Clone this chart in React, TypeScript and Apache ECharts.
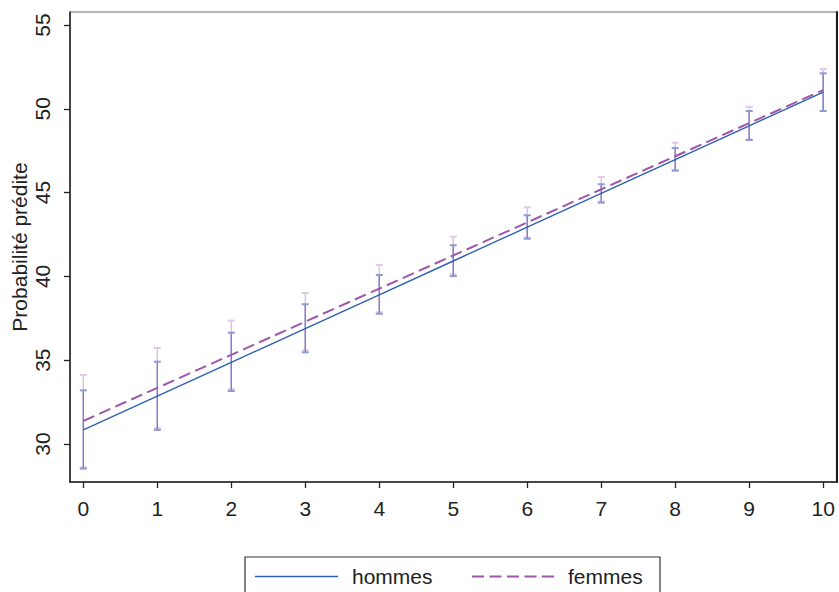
import React, { useEffect, useRef } from "react";
import * as echarts from "echarts";

const xValues = [0, 1, 2, 3, 4, 5, 6, 7, 8, 9, 10];
const hommes = [30.84, 32.86, 34.87, 36.89, 38.9, 40.92, 42.94, 44.95, 46.97, 48.99, 51.0];
const femmes = [31.37, 33.35, 35.32, 37.3, 39.27, 41.25, 43.22, 45.2, 47.17, 49.15, 51.12];
const hommesLow = [28.53, 30.84, 33.16, 35.47, 37.77, 40.02, 42.25, 44.4, 46.31, 48.14, 49.87];
const hommesHigh = [33.2, 34.91, 36.64, 38.34, 40.08, 41.86, 43.65, 45.5, 47.66, 49.87, 52.12];
const femmesLow = [28.6, 30.95, 33.28, 35.59, 37.86, 40.13, 42.32, 44.47, 46.36, 48.18, 49.87];
const femmesHigh = [34.12, 35.73, 37.36, 39.01, 40.68, 42.37, 44.12, 45.93, 47.98, 50.12, 52.37];
const yTicks = [30, 35, 40, 45, 50, 55];
const xTicks = [0, 1, 2, 3, 4, 5, 6, 7, 8, 9, 10];
const legendNames = ["hommes", "femmes"];

const FONT = "'Liberation Sans', Arial, sans-serif";
const COLOR_H = "#2d5fb2";
const COLOR_F = "#a055ac";
const DASH = [12, 5.5];

function ciSeries(name: string, low: number[], high: number[], color: string, capColor: string) {
  return {
    type: "custom",
    name,
    silent: true,
    data: xValues.map((x, i) => [x, low[i], high[i]]),
    renderItem: (params: any, api: any) => {
      const x = api.value(0);
      const p1 = api.coord([x, api.value(1)]);
      const p2 = api.coord([x, api.value(2)]);
      const w = 3.5;
      return {
        type: "group",
        children: [
          { type: "line", shape: { x1: p1[0], y1: p1[1], x2: p2[0], y2: p2[1] }, style: { stroke: color, lineWidth: 1.4 } },
          { type: "line", shape: { x1: p1[0] - w, y1: p1[1], x2: p1[0] + w, y2: p1[1] }, style: { stroke: capColor, lineWidth: 2 } },
          { type: "line", shape: { x1: p2[0] - w, y1: p2[1], x2: p2[0] + w, y2: p2[1] }, style: { stroke: capColor, lineWidth: 2 } },
        ],
      };
    },
    z: 2,
  };
}

export default function App() {
  const ref = useRef<HTMLDivElement>(null);
  useEffect(() => {
    if (!ref.current) return;
    const chart = echarts.init(ref.current, undefined, { renderer: "svg" });
    const ly = 576.5;
    chart.setOption({
      animation: false,
      backgroundColor: "#ffffff",
      textStyle: { fontFamily: FONT },
      grid: {
        left: 70,
        top: 12,
        right: 2.5,
        bottom: 110,
        containLabel: false,
        outerBoundsMode: "none",
        show: true,
        borderColor: "#707070",
        borderWidth: 1.2,
        backgroundColor: "#ffffff",
      },
      graphic: [
        {
          type: "rect",
          shape: { x: 245, y: 557, width: 415, height: 50 },
          style: { fill: "#ffffff", stroke: "#333", lineWidth: 1.2 },
        },
        {
          type: "line",
          shape: { x1: 255, y1: ly, x2: 338, y2: ly },
          style: { stroke: COLOR_H, lineWidth: 1.5 },
        },
        {
          type: "text",
          x: 352,
          y: ly,
          style: { text: legendNames[0], fontSize: 21, fill: "#222", fontFamily: FONT, verticalAlign: "middle", align: "left" },
        },
        {
          type: "line",
          shape: { x1: 472, y1: ly, x2: 555, y2: ly },
          style: { stroke: COLOR_F, lineWidth: 2, lineDash: DASH },
        },
        {
          type: "text",
          x: 568,
          y: ly,
          style: { text: legendNames[1], fontSize: 21, fill: "#222", fontFamily: FONT, verticalAlign: "middle", align: "left" },
        },
      ],
      xAxis: {
        type: "value",
        min: -0.18,
        max: 10.18,
        splitLine: { show: false },
        axisLine: { show: true, onZero: false, lineStyle: { color: "#222", width: 1.5 } },
        axisTick: { show: true, customValues: xTicks, length: 6, lineStyle: { color: "#222", width: 1.3 } },
        axisLabel: { customValues: xTicks, fontSize: 21, color: "#222", margin: 16, fontFamily: FONT },
      },
      yAxis: [
        {
          type: "value",
          min: 27.73,
          max: 55.78,
          name: "Probabilité prédite",
          nameLocation: "middle",
          nameRotate: 90,
          nameGap: 40,
          nameMoveOverlap: false,
          nameTextStyle: { fontSize: 21, color: "#222", fontFamily: FONT },
          splitLine: { show: false },
          axisLine: { show: true, onZero: false, lineStyle: { color: "#222", width: 1.5 } },
          axisTick: { show: true, customValues: yTicks, length: 6, lineStyle: { color: "#222", width: 1.3 } },
          axisLabel: { customValues: yTicks, rotate: 90, fontSize: 21, color: "#222", margin: 17, fontFamily: FONT },
        },
        {
          type: "value",
          position: "right",
          min: 27.73,
          max: 55.78,
          splitLine: { show: false },
          axisLine: { show: true, onZero: false, lineStyle: { color: "#1a1a1a", width: 2 } },
          axisTick: { show: false },
          axisLabel: { show: false },
        },
      ],
      series: [
        ciSeries("ci_femmes", femmesLow, femmesHigh, "#dcc0e2", "#e2c8e6"),
        ciSeries("ci_hommes", hommesLow, hommesHigh, "#7a7ec4", "#8e9ad0"),
        {
          type: "line",
          name: legendNames[0],
          data: xValues.map((x, i) => [x, hommes[i]]),
          showSymbol: false,
          symbol: "none",
          lineStyle: { color: COLOR_H, width: 1.4, type: "solid" },
          itemStyle: { color: COLOR_H },
          z: 4,
        },
        {
          type: "line",
          name: legendNames[1],
          data: xValues.map((x, i) => [x, femmes[i]]),
          showSymbol: false,
          symbol: "none",
          lineStyle: { color: COLOR_F, width: 2, type: DASH },
          itemStyle: { color: COLOR_F },
          z: 3,
        },
      ],
    });
    return () => chart.dispose();
  }, []);
  return <div ref={ref} style={{ width: 839, height: 592, position: "absolute", left: 0, top: 0 }} />;
}
